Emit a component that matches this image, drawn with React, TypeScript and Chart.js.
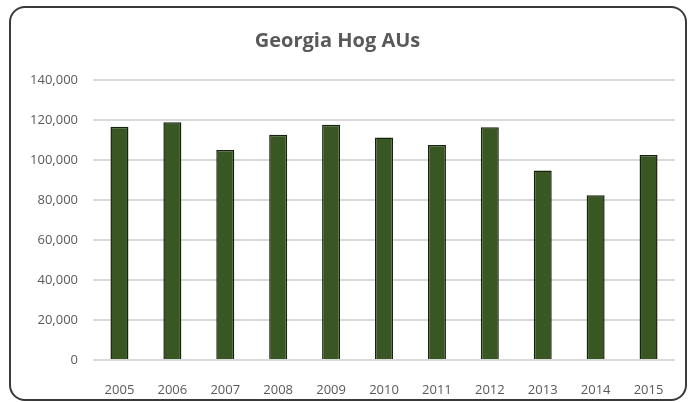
import React, { useEffect, useRef } from "react";
import { Chart, registerables } from "chart.js";

Chart.register(...registerables);

const years = ["2005", "2006", "2007", "2008", "2009", "2010", "2011", "2012", "2013", "2014", "2015"];
const hogAUs = [116600, 118900, 105000, 112600, 117600, 111200, 107500, 116400, 94800, 82400, 102500];
const chartTitle = "Georgia Hog AUs";
const yMax = 140000;
const yStep = 20000;

export default function App() {
  const ref = useRef<HTMLCanvasElement | null>(null);

  useEffect(() => {
    document.body.style.margin = "0";
    const canvas = ref.current;
    if (!canvas) return;
    const chart = new Chart(canvas, {
      type: "bar",
      data: {
        labels: years,
        datasets: [
          {
            label: chartTitle,
            data: hogAUs,
            backgroundColor: "#385723",
            borderColor: "#15230b",
            borderWidth: 1.5,
            categoryPercentage: 1,
            barPercentage: 0.34,
          },
        ],
      },
      options: {
        responsive: false,
        animation: false,
        layout: { padding: { left: 0, right: 14, top: 0, bottom: 0 } },
        plugins: {
          legend: { display: false },
          tooltip: { enabled: false },
          title: {
            display: true,
            text: chartTitle,
            color: "#595959",
            font: { family: "'Open Sans', sans-serif", size: 20, weight: "bold" },
            padding: { top: 29, bottom: 27 },
          },
        },
        scales: {
          x: {
            grid: { display: false },
            border: { display: false },
            ticks: {
              color: "#595959",
              font: { family: "'Open Sans', sans-serif", size: 13 },
              padding: 14,
              maxRotation: 0,
            },
            afterFit: (s: any) => {
              s.height = 42;
            },
          },
          y: {
            min: 0,
            max: yMax,
            ticks: {
              stepSize: yStep,
              color: "#595959",
              font: { family: "'Open Sans', sans-serif", size: 13 },
              padding: 15,
              callback: (v: any) => Number(v).toLocaleString("en-US"),
            },
            grid: { color: "#d9d9d9", lineWidth: 2, drawTicks: false },
            border: { display: false },
            afterFit: (s: any) => {
              s.width = 93;
            },
          },
        },
      },
    });
    return () => chart.destroy();
  }, []);

  return (
    <div style={{ position: "relative", width: 689, height: 402, overflow: "hidden", background: "#fff" }}>
      <canvas ref={ref} width={689} height={402} style={{ position: "absolute", left: 0, top: 0 }} />
      <div
        style={{
          position: "absolute",
          left: 9,
          top: 6,
          width: 674,
          height: 391,
          border: "2px solid #3a3a3a",
          borderRadius: 16,
          pointerEvents: "none",
        }}
      />
    </div>
  );
}
